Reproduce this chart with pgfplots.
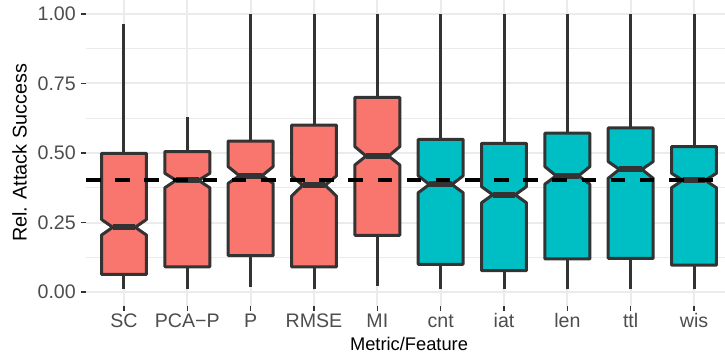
\documentclass[border=0pt]{standalone}
\usepackage{pgfplots}
\pgfplotsset{compat=1.18}
\usepackage{fontspec}
\setmainfont{Liberation Sans}
\definecolor{boxline}{HTML}{333333}
\definecolor{redfill}{HTML}{F8766D}
\definecolor{tealfill}{HTML}{00BFC4}
\definecolor{gridgrey}{HTML}{EBEBEB}
\definecolor{ticktext}{HTML}{4D4D4D}
% notched box: x, lower whisker, q1, notch low, median, notch high, q3, upper whisker, fill
\newcommand\nbox[9]{%
 \pgfmathsetmacro\xa{#1-0.355}%
 \pgfmathsetmacro\xb{#1+0.355}%
 \pgfmathsetmacro\xc{#1-0.1775}%
 \pgfmathsetmacro\xd{#1+0.1775}%
 \edef\tmp{%
 \noexpand\addplot[boxline, line width=3bp] coordinates {(#1,#2) (#1,#3)};
 \noexpand\addplot[boxline, line width=3bp] coordinates {(#1,#7) (#1,#8)};
 \noexpand\addplot[fill=#9, draw=boxline, line width=3bp, line join=round] coordinates {(\xa,#7) (\xa,#6) (\xc,#5) (\xa,#4) (\xa,#3) (\xb,#3) (\xb,#4) (\xd,#5) (\xb,#6) (\xb,#7)} --cycle;
 \noexpand\addplot[boxline, line width=6bp] coordinates {(\xc,#5) (\xd,#5)};
 }\tmp}
\begin{document}
\begin{tikzpicture}
\useasboundingbox (-86bp,-47bp) rectangle (639bp,306bp);
\clip (-86bp,-47bp) rectangle (639bp,306bp);
\begin{axis}[
  at={(0,0)}, anchor=south west,
  scale only axis, width=646bp, height=306bp,
  xmin=0.4, xmax=10.6, ymin=-0.05, ymax=1.05,
  xtick={1,2,3,4,5,6,7,8,9,10},
  xticklabels={SC,PCA−P,P,RMSE,MI,cnt,iat,len,ttl,wis},
  ytick={0,0.25,0.5,0.75,1},
  yticklabels={0.00,0.25,0.50,0.75,1.00},
  minor ytick={0.125,0.375,0.625,0.875},
  xmajorgrids, ymajorgrids, yminorgrids,
  major grid style={gridgrey, line width=2bp},
  minor grid style={gridgrey, line width=1.1bp},
  axis line style={draw=none},
  tick align=outside,
  major tick length=4.5bp, minor tick length=0pt,
  tick style={boxline, line width=1.5bp},
  xtick pos=bottom, ytick pos=left,
  ticklabel style={font=\fontsize{19.6bp}{22bp}\selectfont, text=ticktext, inner sep=0pt},
  yticklabel style={anchor=east, xshift=-5.5bp},
  xticklabel style={anchor=base, yshift=-16.8bp},
  clip=true,
]
\nbox{1}{0.01}{0.064}{0.205}{0.233}{0.261}{0.499}{0.964}{redfill}
\nbox{2}{0.01}{0.091}{0.375}{0.402}{0.427}{0.505}{0.631}{redfill}
\nbox{3}{0.017}{0.131}{0.391}{0.418}{0.451}{0.543}{1.00}{redfill}
\nbox{4}{0.01}{0.091}{0.345}{0.384}{0.418}{0.600}{1.00}{redfill}
\nbox{5}{0.022}{0.204}{0.457}{0.489}{0.523}{0.700}{1.00}{redfill}
\nbox{6}{0.01}{0.100}{0.357}{0.387}{0.418}{0.549}{1.00}{tealfill}
\nbox{7}{0.01}{0.077}{0.321}{0.350}{0.379}{0.535}{1.00}{tealfill}
\nbox{8}{0.01}{0.119}{0.388}{0.418}{0.451}{0.571}{1.00}{tealfill}
\nbox{9}{0.01}{0.121}{0.409}{0.441}{0.469}{0.590}{1.00}{tealfill}
\nbox{10}{0.01}{0.097}{0.375}{0.402}{0.427}{0.523}{1.00}{tealfill}
\addplot[black, line width=3.5bp, dash pattern=on 14.6bp off 14.55bp] coordinates {(0.4,0.403) (10.6,0.403)};
\end{axis}
\node[anchor=base, font=\fontsize{18.3bp}{21bp}\selectfont] at (323bp,-44bp) {Metric/Feature};
\node[rotate=90, anchor=base, font=\fontsize{19.8bp}{22bp}\selectfont] at (-59.3bp,153bp) {Rel. Attack Success};
\end{tikzpicture}
\end{document}
